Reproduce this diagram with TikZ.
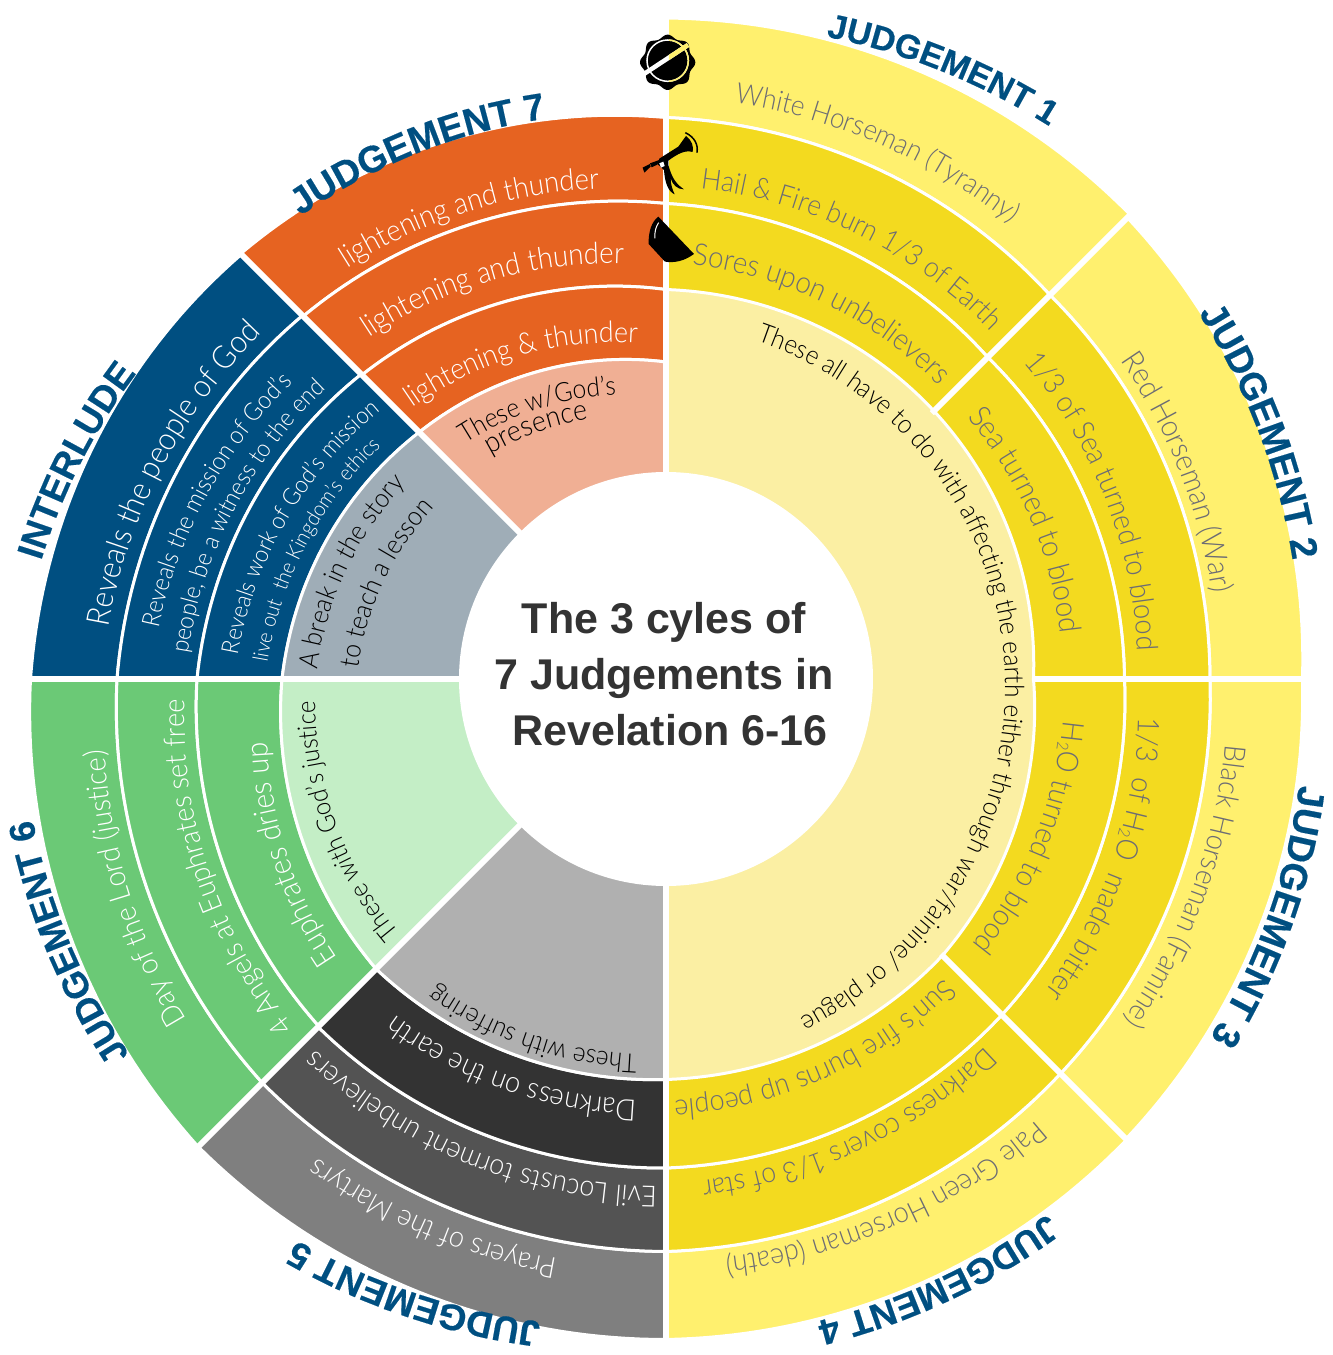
\documentclass[tikz,border=0pt]{standalone}
\usepackage{fontspec}
\usepackage{tikz}
\usetikzlibrary{decorations.text}
\setmainfont{Liberation Sans}
\newfontfamily\lblfont[FakeStretch=0.92]{Lato Light}
\newfontfamily\headfont[FakeBold=0.4]{Liberation Sans Bold}

\definecolor{yellowlight}{HTML}{FFF06E}
\definecolor{yellowmid}{HTML}{F3DA1F}
\definecolor{yellowpale}{HTML}{FBEFA3}
\definecolor{orangemid}{HTML}{E66321}
\definecolor{orangepale}{HTML}{F0AF94}
\definecolor{navy}{HTML}{004F81}
\definecolor{bluegrey}{HTML}{9FADB7}
\definecolor{greenmid}{HTML}{6BC976}
\definecolor{greenpale}{HTML}{C4EEC6}
\definecolor{greyone}{HTML}{7F7F7F}
\definecolor{greytwo}{HTML}{535353}
\definecolor{greythree}{HTML}{333333}
\definecolor{greypale}{HTML}{B0B0B0}
\definecolor{labelgrey}{HTML}{6C6C74}
\definecolor{titlegrey}{HTML}{333333}

\tikzset{
  ringline/.style={draw=white,line width=3pt},
  gapline/.style={draw=white,line width=6pt},
  iconfill/.style={fill=black,draw=none}
}

% start angle, end angle, outer r at both, inner r at both, colour
\newcommand{\band}[7]{
\path[fill=#7,#7] plot[domain=#1:#2,samples=40] ({\x}:{#3+(#4-#3)*(\x-#1)/(#2-#1)})
  -- plot[domain=#2:#1,samples=40] ({\x}:{#5+(#6-#5)*(\x-#1)/(#2-#1)}) -- cycle;
}
\newcommand{\ringband}[7]{
\draw[fill=#7,ringline] plot[domain=#1:#2,samples=40] ({\x}:{#3+(#4-#3)*(\x-#1)/(#2-#1)})
  -- plot[domain=#2:#1,samples=40] ({\x}:{#5+(#6-#5)*(\x-#1)/(#2-#1)}) -- cycle;
}
% colour, size, start angle, end angle, r at both, text
\newcommand{\ringlabel}[7]{
\path[decorate,decoration={text along path,text color=#1,
  text={|\lblfont\fontsize{#2}{#2}\selectfont|#7}}]
  plot[domain=#3:#4-0.5*(#3-#4),samples=40] ({\x}:{#5+(#6-#5)*(\x-#3)/(#4-#3)});
}
\newcommand{\headlabel}[6]{
\path[decorate,decoration={text along path,text color=navy,
  text={|\headfont\fontsize{#1}{#1}\selectfont|#6}}]
  plot[domain=#2:#3-0.5*(#2-#3),samples=40] ({\x}:{#4+(#5-#4)*(\x-#2)/(#3-#2)});
}

\begin{document}
\begin{tikzpicture}[x=1pt,y=1pt]
\useasboundingbox (-666,-676) rectangle (667,679);

%inner wedges without ring lines
\band{90}{45}{389.5}{379}{200}{200}{yellowpale}
\band{45.5}{0}{379}{367.5}{200}{200}{yellowpale}
\band{0.5}{-45}{367.5}{391}{200}{200}{yellowpale}
\band{-44.5}{-90}{391}{400.5}{200}{200}{yellowpale}

%judgement 1
\ringband{90}{45}{661}{656.5}{561.5}{543}{yellowlight}
\ringband{90}{45}{561.5}{543}{475.5}{455}{yellowmid}
\ringband{90}{45}{475.5}{455}{389.5}{379}{yellowmid}
%judgement 2
\ringband{45}{0}{652.5}{636.5}{543}{544}{yellowlight}
\ringband{45}{0}{543}{544}{455}{458.5}{yellowmid}
\ringband{45}{0}{455}{458.5}{379}{367.5}{yellowmid}
%judgement 3
\ringband{0}{-45}{636.5}{650.5}{544}{558}{yellowlight}
\ringband{0}{-45}{544}{558}{458.5}{475}{yellowmid}
\ringband{0}{-45}{458.5}{475}{367.5}{391}{yellowmid}
%judgement 4
\ringband{-45}{-90}{651.5}{660.5}{558}{572.5}{yellowlight}
\ringband{-45}{-90}{558}{572.5}{475}{489}{yellowmid}
\ringband{-45}{-90}{475}{489}{391}{400.5}{yellowmid}
%judgement 5
\ringband{270}{225}{660.5}{661.5}{572.5}{571}{greyone}
\ringband{270}{225}{572.5}{571}{489}{492}{greytwo}
\ringband{270}{225}{489}{492}{400.5}{410}{greythree}
\ringband{270}{225}{400.5}{410}{200}{200}{greypale}
%judgement 6
\ringband{225}{180}{661.5}{635.5}{571}{549}{greenmid}
\ringband{225}{180}{571}{549}{491}{469}{greenmid}
\ringband{225}{180}{491}{469}{410}{384}{greenmid}
\ringband{225}{180}{410}{384}{200}{200}{greenpale}
%interlude
\ringband{180}{135}{635.5}{600.5}{549}{514}{navy}
\ringband{180}{135}{549}{514}{469}{431}{navy}
\ringband{180}{135}{469}{431}{384}{349}{navy}
\ringband{180}{135}{384}{349}{200}{200}{bluegrey}
%judgement 7
\ringband{135}{90}{601.5}{561.5}{513}{475.5}{orangemid}
\ringband{135}{90}{513}{475.5}{430}{389.5}{orangemid}
\ringband{135}{90}{430}{389.5}{349}{317}{orangemid}
\ringband{135}{90}{349}{317}{200}{200}{orangepale}

%gaps between the sectors
\draw[gapline] (90:200) -- (90:700);
\draw[gapline] (45:376) -- (45:700);
\draw[gapline] (0:366) -- (0:700);
\draw[gapline] (-45:389) -- (-45:700);
\draw[gapline] (-90:200) -- (-90:700);
\draw[gapline] (225:200) -- (225:700);
\draw[gapline] (180:200) -- (180:700);
\draw[gapline] (135:200) -- (135:700);

\fill[white] (0,0) circle (207);

\node[font=\bfseries\fontsize{43}{56}\selectfont,text=titlegrey,align=center] (title) at (-2,5)
  {The 3 cyles of\\7 Judgements in\\\hspace{12pt}Revelation 6-16};

%judgement 1
\ringlabel{labelgrey}{28.4}{83.2}{52.7}{580}{571}{White Horseman (Tyranny)}
\ringlabel{labelgrey}{28.8}{86}{47}{492}{476}{Hail {\&} Fire burn 1/3 of Earth}
\ringlabel{labelgrey}{30.2}{86.4}{46.5}{415}{400}{Sores upon unbelievers}
%judgement 2
\ringlabel{labelgrey}{30.4}{35}{9.5}{555}{553}{Red Horseman (War)}
\ringlabel{labelgrey}{29.6}{41.5}{3.5}{478}{472}{1/3 of Sea turned to blood}
\ringlabel{labelgrey}{30.4}{41}{6.7}{399}{397}{Sea turned to blood}
%judgement 3
\ringlabel{labelgrey}{29.5}{-6.7}{-38}{563}{571}{Black Horseman (Famine)}
\ringlabel{labelgrey}{30}{-4.7}{-39}{474}{491}{1/3 \ of H{\raisebox{-3pt}{\fontsize{16}{16}\selectfont 2}}O \ made bitter}
\ringlabel{labelgrey}{30}{-6}{-39}{399}{405}{H{\raisebox{-3pt}{\fontsize{16}{16}\selectfont 2}}O turned to blood}
%judgement 4
\ringlabel{labelgrey}{29.5}{-50}{-84}{576}{581}{Pale Green Horseman (death)}
\ringlabel{labelgrey}{28.9}{-49}{-85.5}{487}{503}{Darkness covers 1/3 of star}
\ringlabel{labelgrey}{29.4}{-47}{-88}{409}{421}{Sun’s fire burns up people}
%judgement 5
\ringlabel{white}{29.4}{259.4}{234}{590}{592}{Prayers of the Martyrs}
\ringlabel{white}{29.2}{269}{226}{508}{510}{Evil Locusts torment unbelievers}
\ringlabel{white}{29.5}{266}{230.4}{422}{432}{Darkness on the earth}
\ringlabel{black}{26.5}{265.6}{233}{377}{383}{These with suffering}
%judgement 6
\ringlabel{white}{29.8}{215.4}{187}{588}{565}{Day of the Lord (justice)}
\ringlabel{white}{29.3}{223}{182}{509}{481}{4 Angels at Euphrates set free}
\ringlabel{white}{31}{220.4}{188.7}{431}{403}{Euphrates dries up}
\ringlabel{black}{26}{223.6}{182.6}{368}{351}{These with God’s justice}
%interlude
\ringlabel{white}{32}{174.7}{140}{560}{532}{Reveals the people of God}
\ringlabel{white}{25}{174.3}{142}{510}{477}{Reveals the mission of God’s}
\ringlabel{white}{24.5}{177}{139.7}{479}{447}{people, be a witness to the end}
\ringlabel{white}{24}{176.8}{137.3}{429}{392}{Reveals work of God’s mission}
\ringlabel{white}{21.3}{177.6}{140.8}{399}{368}{live out \ the Kingdom’s ethics}
\ringlabel{black}{26.8}{178.5}{143}{349}{325}{A break in the story}
\ringlabel{black}{27}{178}{143.5}{308}{288}{to teach a lesson}
%judgement 7
\ringlabel{white}{29.8}{127.8}{98}{520}{495}{lightening and thunder}
\ringlabel{white}{30}{131}{96.5}{452}{418}{lightening and thunder}
\ringlabel{white}{29.2}{133}{95}{371}{337}{lightening {\&} thunder}
\ringlabel{black}{26.7}{130.5}{99.6}{309}{288}{These w/God’s}
\ringlabel{black}{29}{128}{104.8}{285}{270}{presence}
%long one on the pale yellow
\path[decorate,decoration={text along path,text color=black,
  text={|\lblfont\fontsize{26.5}{26.5}\selectfont|These all have to do with affecting the earth either through war/fainine/ or plague}}]
  plot[domain=75:-90,samples=90] ({\x}:{339-0.126*\x+0.003635*\x*\x});

%headings
\headlabel{34}{76}{54.7}{662}{673}{JUDGEMENT 1}
\headlabel{37.5}{34.5}{11}{646}{638}{JUDGEMENT 2}
\headlabel{38}{-9.5}{-34.3}{642}{652}{JUDGEMENT 3}
\headlabel{36}{-54.5}{-77}{657}{660}{JUDGEMENT 4}
\headlabel{36.5}{259}{237.8}{655}{671}{JUDGEMENT 5}
\headlabel{36}{215}{193.5}{655}{649}{JUDGEMENT 6}
\headlabel{37}{169.3}{150.5}{636}{612}{INTERLUDE}
\headlabel{37.5}{128.3}{103.5}{590}{574}{JUDGEMENT 7}

%icons, written in the pixels of a 3x crop
\begin{scope}[shift={(-66,679)},x=0.3333pt,y=-0.3333pt]
%seal
\fill[black] plot[domain=0:360,samples=120,smooth] ({203+(78+5*cos(8*\x))*cos(\x)},{187+(78+5*cos(8*\x))*sin(\x)}) -- cycle;
\draw[white,line width=1.5pt] (203,182) circle (62);
\draw[white,line width=4.5pt] (132,222) -- (264,135);
\begin{scope}
\clip (207,90) rectangle (300,280);
\draw[yellowlight,line width=1.5pt] (203,182) circle (62);
\draw[yellowlight,line width=4.5pt] (132,222) -- (264,135);
\end{scope}
%trumpet
\fill[iconfill] (178,476) -- (235,440) -- (258,408) .. controls (275,420) and (282,440) .. (278,456)
  .. controls (255,450) and (235,460) .. (205,482) -- (205,495) .. controls (215,530) and (225,550) .. (252,568)
  .. controls (232,568) and (218,555) .. (212,535) .. controls (212,555) and (218,570) .. (224,583)
  .. controls (205,575) and (195,550) .. (192,510) -- (172,492) -- cycle;
\fill[iconfill] (128,503) -- (150,492) -- (152,500) -- (133,518) -- cycle;
\fill[iconfill] (150,490) -- (178,480) -- (172,494) -- (155,502) -- cycle;
\fill[white] (178,490) -- (190,485) -- (194,498) -- (183,503) -- cycle;
\draw[black,line width=1.5pt] (256,398) .. controls (285,412) and (295,435) .. (291,458);
%bowl
\fill[iconfill] (175,650) .. controls (155,665) and (145,695) .. (146,732) -- (195,785)
  .. controls (225,790) and (255,782) .. (282,762) -- cycle;
\draw[white,line width=1pt] (176,668) .. controls (168,680) and (163,695) .. (165,715);
\end{scope}
\end{tikzpicture}
\end{document}
